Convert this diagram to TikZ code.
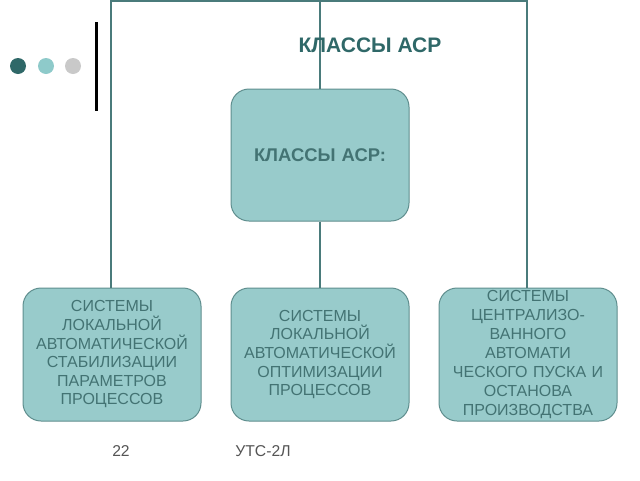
\documentclass[tikz,border=0pt]{standalone}
\usepackage{fontspec}
\setmainfont{Liberation Sans}
\definecolor{darkteal}{HTML}{2F6868}
\definecolor{lightteal}{HTML}{8ECACA}
\definecolor{dotgrey}{HTML}{C9C9C9}
\definecolor{boxfill}{HTML}{98CBCB}
\definecolor{boxline}{HTML}{5F8E8E}
\definecolor{linecol}{HTML}{4A7B7B}
\definecolor{boxtext}{HTML}{437373}
\definecolor{foot}{HTML}{555555}
\begin{document}
\begin{tikzpicture}[x=1pt,y=-1pt,
  box/.style={draw=boxline,line width=1pt,fill=boxfill,rounded corners=18pt,minimum width=178pt,minimum height=133pt,inner sep=0pt,align=center,text=boxtext,font=\fontsize{16}{18.6}\selectfont,text width=176pt},
  conn/.style={draw=linecol,line width=2pt},
  dot/.style={circle,minimum size=16pt,inner sep=0pt}]
\useasboundingbox (0,0) rectangle (640,480);
\fill[white] (0,0) rectangle (640,480);
% decoration
\node[dot,fill=darkteal] (d1) at (18,66) {};
\node[dot,fill=lightteal] (d2) at (46,66) {};
\node[dot,fill=dotgrey] (d3) at (73,66) {};
\coordinate (b1) at (96,22);
\coordinate (b2) at (96,111);
\draw[line width=3pt,black] (b1) -- (b2);
% boxes
\node[box,minimum height=132pt,font=\bfseries\fontsize{18.4}{21}\selectfont] (c) at (320,155) {КЛАССЫ АСР:};
\node[box] (l) at (112,354.5) {СИСТЕМЫ\\ЛОКАЛЬНОЙ\\АВТОМАТИЧЕСКОЙ\\СТАБИЛИЗАЦИИ\\ПАРАМЕТРОВ\\ПРОЦЕССОВ};
\node[box] (m) at (320,354.5) {СИСТЕМЫ\\ЛОКАЛЬНОЙ\\АВТОМАТИЧЕСКОЙ\\ОПТИМИЗАЦИИ\\ПРОЦЕССОВ};
\node[box,font=\fontsize{16}{19}\selectfont] (r) at (528,354.5) {СИСТЕМЫ\\ЦЕНТРАЛИЗО-\\ВАННОГО\\АВТОМАТИ\\ЧЕСКОГО ПУСКА И\\ОСТАНОВА\\ПРОИЗВОДСТВА};
% connectors
\coordinate (tl) at (111,1);
\coordinate (tr) at (527,1);
\coordinate (tc) at (320,0);
\draw[conn] (l.north -| tl) -- (tl) -- (tr) -- (r.north -| tr);
\draw[conn] (tc) -- (c.north);
\draw[conn] (c.south) -- (m.north);
% title
\node[text=darkteal,font=\bfseries\fontsize{21}{24}\selectfont] (t) at (370,45) {КЛАССЫ АСР};
% footer
\node[text=foot,font=\fontsize{15.7}{18}\selectfont] (f1) at (121,451) {22};
\node[text=foot,font=\fontsize{15.7}{18}\selectfont] (f2) at (263,451) {УТС-2Л};
\end{tikzpicture}
\end{document}
